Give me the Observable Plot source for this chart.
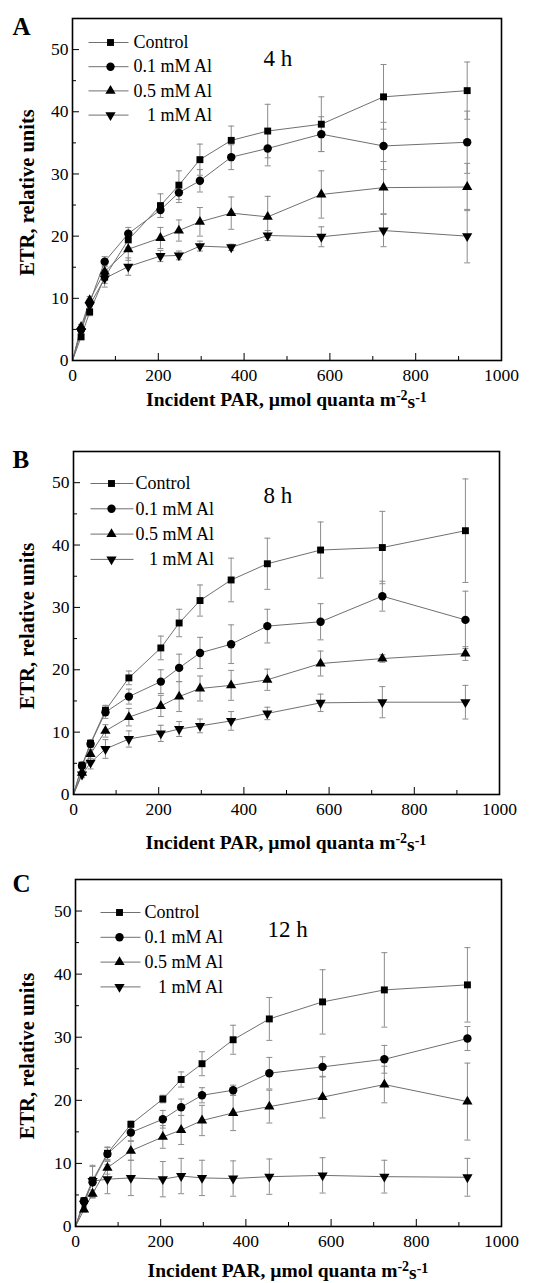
<!DOCTYPE html>
<html><head><meta charset="utf-8">
<script src="https://cdn.jsdelivr.net/npm/d3@7"></script>
<script src="https://cdn.jsdelivr.net/npm/@observablehq/plot@0.6"></script>
<style>
body{margin:0;background:#fff;}
#chart{width:555px;}
#chart svg{display:block;}
</style></head><body><div id="chart"></div>
<script>
// ---- shared data ----
const par = [0, 20, 40, 75, 130, 205, 248, 297, 370, 455, 580, 725, 920];
const seriesNames = ["Control", "0.1 mM Al", "0.5 mM Al", "1 mM Al"];
const legendLabels = ["Control", "0.1 mM Al", "0.5 mM Al", "\u00A0\u00A0\u00A01 mM Al"];
const panelLetters = ["A", "B", "C"];
const panelTimes = ["4 h", "8 h", "12 h"];
const xTicks = [0, 200, 400, 600, 800, 1000];
const xMinorTicks = [100, 300, 500, 700, 900];
const yTicks = [0, 10, 20, 30, 40, 50];
const yMinorTicks = [5, 15, 25, 35, 45];

// ---- Panel A: 4 h ----
const etrA_control = [0, 3.8, 7.8, 13.4, 19.4, 24.9, 28.2, 32.3, 35.4, 36.9, 38.0, 42.4, 43.4];
const errA_control = [0, 0.4, 0.6, 1.0, 1.2, 1.9, 2.3, 2.5, 2.3, 4.3, 4.4, 5.2, 4.6];
const etrA_al01 = [0, 5.0, 9.3, 15.9, 20.4, 24.2, 27.0, 28.9, 32.7, 34.1, 36.4, 34.5, 35.1];
const errA_al01 = [0, 0.4, 0.6, 0.8, 1.0, 1.2, 1.6, 1.8, 2.0, 2.8, 2.8, 3.8, 5.0];
const etrA_al05 = [0, 5.4, 9.7, 14.3, 17.9, 19.7, 20.9, 22.3, 23.7, 23.1, 26.7, 27.8, 27.9];
const errA_al05 = [0, 0.4, 0.6, 1.0, 1.8, 1.7, 1.7, 2.3, 2.6, 3.3, 3.8, 4.2, 3.8];
const etrA_al1 = [0, 4.7, 8.9, 13.2, 15.1, 16.8, 16.9, 18.4, 18.2, 20.1, 19.9, 20.9, 20.0];
const errA_al1 = [0, 0.4, 0.6, 1.4, 1.4, 0.9, 0.7, 0.8, 0.5, 0.8, 1.6, 2.6, 4.3];

// ---- Panel B: 8 h ----
const etrB_control = [0, 4.7, 8.2, 13.5, 18.7, 23.5, 27.5, 31.1, 34.4, 37.0, 39.2, 39.6, 42.3];
const errB_control = [0, 0.4, 0.6, 0.8, 1.1, 1.9, 2.2, 2.5, 3.5, 4.1, 4.5, 5.8, 8.3];
const etrB_al01 = [0, 4.6, 8.1, 13.2, 15.7, 18.1, 20.3, 22.7, 24.1, 27.0, 27.7, 31.8, 28.0];
const errB_al01 = [0, 0.4, 0.6, 1.0, 1.2, 1.9, 2.2, 2.5, 3.1, 2.7, 2.9, 2.4, 4.6];
const etrB_al05 = [0, 3.5, 6.5, 10.2, 12.4, 14.2, 15.7, 17.0, 17.5, 18.4, 21.0, 21.8, 22.6];
const errB_al05 = [0, 0.4, 0.7, 1.0, 1.4, 1.7, 2.4, 2.0, 2.4, 1.7, 2.0, 0.6, 1.1];
const etrB_al1 = [0, 3.2, 5.1, 7.3, 8.9, 9.8, 10.5, 11.0, 11.8, 13.0, 14.7, 14.8, 14.8];
const errB_al1 = [0, 0.5, 1.0, 1.5, 1.3, 1.3, 1.2, 1.1, 1.5, 1.0, 1.4, 2.5, 2.7];

// ---- Panel C: 12 h ----
const etrC_control = [0, 4.1, 7.3, 11.6, 16.2, 20.2, 23.3, 25.8, 29.6, 32.9, 35.6, 37.5, 38.3];
const errC_control = [0, 0.4, 0.6, 1.0, 0.5, 0.6, 1.2, 1.9, 2.3, 3.4, 5.1, 5.9, 5.9];
const etrC_al01 = [0, 4.0, 7.0, 11.5, 14.9, 17.0, 18.9, 20.8, 21.6, 24.3, 25.3, 26.5, 29.8];
const errC_al01 = [0, 0.4, 2.5, 1.0, 1.3, 1.4, 1.3, 1.2, 0.8, 2.5, 1.6, 2.2, 1.9];
const etrC_al05 = [0, 2.7, 5.2, 9.3, 12.0, 14.2, 15.3, 16.8, 18.0, 19.0, 20.5, 22.5, 19.8];
const errC_al05 = [0, 0.4, 0.6, 1.0, 1.5, 1.8, 2.3, 2.4, 2.8, 2.6, 3.3, 2.9, 6.1];
const etrC_al1 = [0, 3.6, 7.2, 7.5, 7.7, 7.5, 8.0, 7.7, 7.6, 7.9, 8.1, 7.9, 7.8];
const errC_al1 = [0, 0.5, 2.5, 2.3, 2.8, 2.8, 2.8, 2.8, 2.8, 2.8, 2.8, 2.6, 3.0];

const panelSeries = [
  [[etrA_control, errA_control], [etrA_al01, errA_al01], [etrA_al05, errA_al05], [etrA_al1, errA_al1]],
  [[etrB_control, errB_control], [etrB_al01, errB_al01], [etrB_al05, errB_al05], [etrB_al1, errB_al1]],
  [[etrC_control, errC_control], [etrC_al01, errC_al01], [etrC_al05, errC_al05], [etrC_al1, errC_al1]]
];

// ---- layout (pixels) ----
const layouts = [
  {h: 423, mt: 18, mb: 63, ml: 72, mr: 54, letterDy: 8, timeDx: 191, timeDy: 40, legTop: 24, legStep: 24.2, legX1: 16, legX2: 56, legM: 38, legT: 61, xlab: 46},
  {h: 432, mt: 28, mb: 61, ml: 73, mr: 56, letterDy: 8, timeDx: 190, timeDy: 44, legTop: 32, legStep: 25.3, legX1: 17, legX2: 60, legM: 38, legT: 62, xlab: 55},
  {h: 428, mt: 24, mb: 57, ml: 75, mr: 54, letterDy: 4, timeDx: 192, timeDy: 50, legTop: 33, legStep: 24.8, legX1: 25, legX2: 65, legM: 44, legT: 69, xlab: 51}
];

const FONT = "Liberation Serif, Times New Roman, Times, serif";
const sqrt3 = Math.sqrt(3);
const triangleDown = {draw(c, size) {
  const y = -Math.sqrt(size / (sqrt3 * 3));
  c.moveTo(0, -y * 2); c.lineTo(-sqrt3 * y, y); c.lineTo(sqrt3 * y, y); c.closePath();
}};
const capSymbol = {draw(c) { c.moveTo(-3, 0); c.lineTo(3, 0); }};
const symbols = [d3.symbolSquare, d3.symbolCircle, d3.symbolTriangle, triangleDown];
const radii = [3.9, 4.2, 3.8, 3.8];
const LINE = "#707070", ERR = "#8c8c8c";
const fmt = d => String(d);

const chart = document.getElementById("chart");

panelSeries.forEach((seriesData, p) => {
  const L = layouts[p];
  const fw = 555 - L.ml - L.mr, fh = L.h - L.mt - L.mb;
  const px2x = px => px / fw * 1000;
  const px2y = py => 55 * (1 - py / fh);
  const rows = [];
  seriesNames.forEach((name, s) => {
    const [vals, errs] = seriesData[s];
    par.forEach((x, i) => rows.push({series: name, s, x, y: vals[i], err: errs[i]}));
  });
  const eb = rows.filter(d => d.err > 0);
  const leg = seriesNames.map((name, i) => ({name: legendLabels[i], i, y: px2y(L.legTop + i * L.legStep)}));

  const marks = [
    Plot.axisX(xTicks, {tickSize: -7, tickPadding: 15, fontSize: 17.5, fontFamily: FONT, tickFormat: fmt, label: null}),
    Plot.axisX(xMinorTicks, {tickSize: -4, tickFormat: () => "", label: null}),
    Plot.axisY(yTicks, {tickSize: -7, tickPadding: 11, fontSize: 17.5, fontFamily: FONT, tickFormat: fmt, label: null}),
    Plot.axisY(yMinorTicks, {tickSize: -4, tickFormat: () => "", label: null}),
    Plot.ruleX(eb, {x: "x", y1: d => d.y - d.err, y2: d => d.y + d.err, stroke: ERR, strokeWidth: 1}),
    Plot.dot(eb, {x: "x", y: d => d.y + d.err, symbol: capSymbol, stroke: ERR, fill: "none", strokeWidth: 1}),
    Plot.dot(eb, {x: "x", y: d => d.y - d.err, symbol: capSymbol, stroke: ERR, fill: "none", strokeWidth: 1}),
    Plot.line(rows, {x: "x", y: "y", z: "series", stroke: LINE, strokeWidth: 1}),
    ...seriesNames.map((n, s) => Plot.dot(rows.filter(d => d.s === s && d.x > 0),
      {x: "x", y: "y", symbol: symbols[s], r: radii[s], fill: "#000", stroke: "none"})),
    // legend
    Plot.link(leg, {x1: () => px2x(L.legX1), x2: () => px2x(L.legX2), y1: "y", y2: "y", stroke: LINE, strokeWidth: 1}),
    ...seriesNames.map((n, s) => Plot.dot(leg.filter(d => d.i === s),
      {x: () => px2x(L.legM), y: "y", symbol: symbols[s], r: radii[s], fill: "#000", stroke: "none"})),
    Plot.text(leg, {x: () => px2x(L.legT), y: "y", text: "name", textAnchor: "start", lineAnchor: "middle", fontSize: 18, fontFamily: FONT, fill: "#000"}),
    // time label
    Plot.text([panelTimes[p]], {frameAnchor: "top-left", dx: L.timeDx, dy: L.timeDy, textAnchor: "start", lineAnchor: "middle", fontSize: 23, fontFamily: FONT, fill: "#000"}),
    // panel letter
    Plot.text([panelLetters[p]], {frameAnchor: "top-left", dx: 12 - L.ml, dy: L.letterDy, textAnchor: "start", lineAnchor: "middle", fontSize: 25, fontWeight: "bold", fontFamily: FONT, fill: "#000"}),
    // y label
    Plot.text(["ETR, relative units"], {frameAnchor: "left", dx: 27 - L.ml, dy: 3, rotate: -90, textAnchor: "middle", lineAnchor: "middle", fontSize: 20.5, fontWeight: "bold", fontFamily: FONT, fill: "#000"}),
    Plot.frame({stroke: "#000", strokeWidth: 1.6})
  ];

  const svg = Plot.plot({
    width: 555, height: L.h,
    marginTop: L.mt, marginBottom: L.mb, marginLeft: L.ml, marginRight: L.mr,
    x: {domain: [0, 1000]},
    y: {domain: [0, 55]},
    style: {fontFamily: FONT, fontSize: "17px", color: "#000", background: "#fff"},
    marks
  });

  // x-axis title with superscripts
  const t = d3.select(svg).append("text")
    .attr("x", L.ml + fw / 2)
    .attr("y", L.mt + fh + L.xlab)
    .attr("text-anchor", "middle")
    .attr("font-family", FONT)
    .attr("font-size", 19.5)
    .attr("font-weight", "bold")
    .attr("fill", "#000");
  t.append("tspan").text("Incident PAR, \u00B5mol quanta m");
  t.append("tspan").attr("dy", "-0.45em").attr("font-size", "0.72em").text("-2");
  t.append("tspan").attr("dy", "0.45em").text("s");
  t.append("tspan").attr("dy", "-0.45em").attr("font-size", "0.72em").text("-1");

  chart.appendChild(svg);
});
</script>
</body></html>
